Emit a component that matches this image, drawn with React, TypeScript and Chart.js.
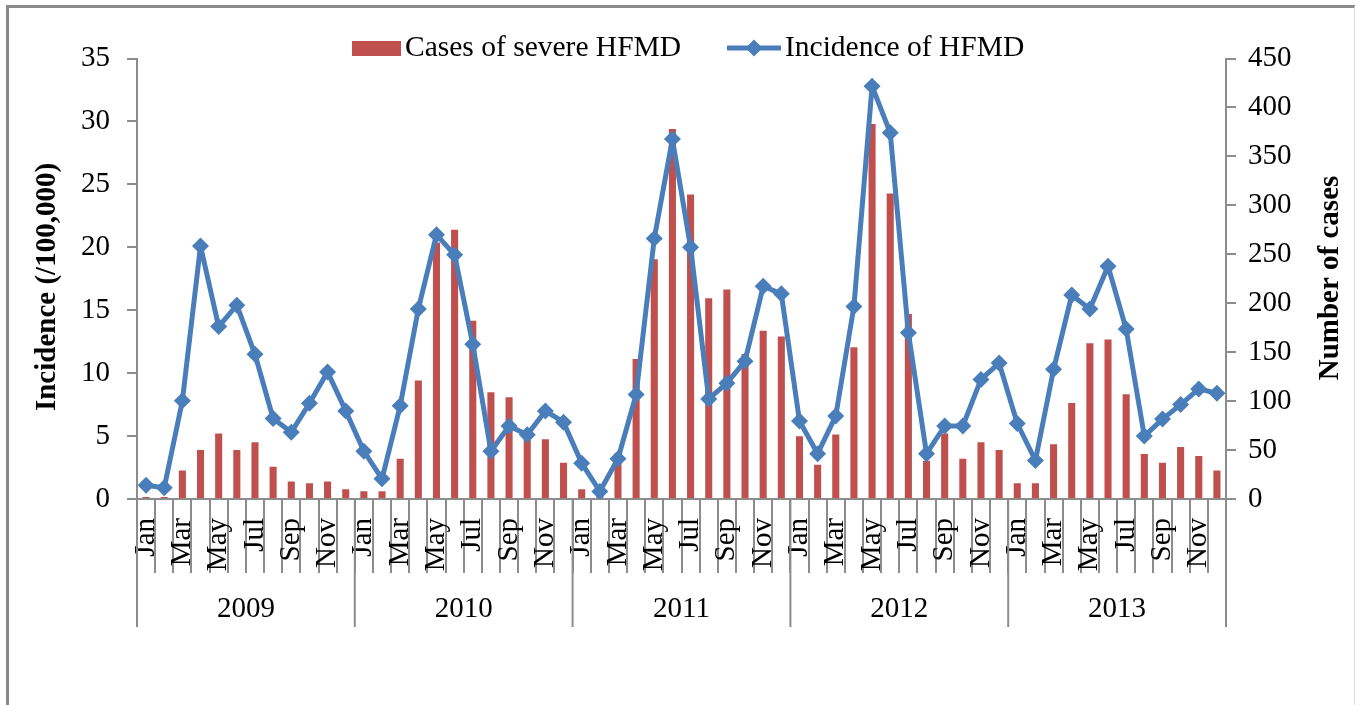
import React, { useEffect, useRef } from 'react';
import { Chart, registerables } from 'chart.js';

Chart.register(...registerables);

const years = ['2009', '2010', '2011', '2012', '2013'];
const monthNames = ['Jan', 'Feb', 'Mar', 'Apr', 'May', 'Jun', 'Jul', 'Aug', 'Sep', 'Oct', 'Nov', 'Dec'];
const categories = years.flatMap((y) => monthNames.map((m) => m));

const seriesNames = ['Cases of severe HFMD', 'Incidence of HFMD'];

// Number of severe cases (right axis)
const severeCases = [
  2, 2, 29, 50, 67, 50, 58, 33, 18, 16, 18, 10,
  8, 8, 41, 121, 262, 275, 182, 109, 104, 62, 61, 37,
  10, 4, 47, 143, 245, 378, 311, 205, 214, 148, 172, 166,
  64, 35, 66, 155, 383, 312, 189, 39, 67, 41, 58, 50,
  16, 16, 56, 98, 159, 163, 107, 46, 37, 53, 44, 29,
];

// Incidence per 100,000 (left axis)
const incidence = [
  1.1, 0.9, 7.8, 20.1, 13.7, 15.4, 11.5, 6.4, 5.3, 7.6, 10.1, 7.0,
  3.8, 1.6, 7.4, 15.1, 21.0, 19.4, 12.3, 3.8, 5.8, 5.1, 7.0, 6.1,
  2.85, 0.6, 3.2, 8.3, 20.7, 28.6, 20.0, 7.95, 9.2, 10.95, 16.9, 16.3,
  6.2, 3.6, 6.6, 15.3, 32.8, 29.1, 13.2, 3.6, 5.8, 5.8, 9.5, 10.8,
  6.0, 3.06, 10.3, 16.2, 15.1, 18.5, 13.5, 5.0, 6.35, 7.5, 8.75, 8.4,
];

const leftTitle = 'Incidence (/100,000)';
const rightTitle = 'Number of cases';

const RED = '#C0504D';
const BLUE = '#4A7EBB';
const AXIS = '#8c8c8c';
const FONT = "'Liberation Serif', 'Times New Roman', serif";

const W = 1359;
const H = 705;

const overlayPlugin = {
  id: 'overlay',
  afterDraw(chart: any) {
    const ctx = chart.ctx as CanvasRenderingContext2D;
    const xs = chart.scales.x;
    ctx.save();

    // Year separators and year labels
    const half = (xs.getPixelForValue(1) - xs.getPixelForValue(0)) / 2;
    ctx.strokeStyle = AXIS;
    ctx.lineWidth = 2;
    for (let k = 0; k <= years.length; k++) {
      const px = k < years.length ? xs.getPixelForValue(k * 12) - half : xs.getPixelForValue(k * 12 - 1) + half;
      ctx.beginPath();
      ctx.moveTo(px, xs.top);
      ctx.lineTo(px, 627);
      ctx.stroke();
    }
    ctx.fillStyle = '#000';
    ctx.font = `29px ${FONT}`;
    ctx.textAlign = 'center';
    ctx.textBaseline = 'middle';
    years.forEach((y, k) => {
      const a = xs.getPixelForValue(k * 12) - half;
      const b = xs.getPixelForValue(k * 12 + 11) + half;
      ctx.fillText(y, (a + b) / 2, 609);
    });

    // Axis titles
    ctx.font = `bold 29px ${FONT}`;
    ctx.save();
    ctx.translate(48, 287);
    ctx.rotate(-Math.PI / 2);
    ctx.fillText(leftTitle, 0, 0);
    ctx.restore();
    ctx.save();
    ctx.translate(1331, 278);
    ctx.rotate(-Math.PI / 2);
    ctx.fillText(rightTitle, 0, 0);
    ctx.restore();

    // Legend
    const ly = 48;
    ctx.fillStyle = RED;
    ctx.fillRect(352, 41, 49, 15);
    ctx.fillStyle = '#000';
    ctx.font = `29.5px ${FONT}`;
    ctx.textAlign = 'left';
    ctx.fillText(seriesNames[0], 405, ly);
    ctx.strokeStyle = BLUE;
    ctx.lineWidth = 5;
    ctx.beginPath();
    ctx.moveTo(727, ly);
    ctx.lineTo(781, ly);
    ctx.stroke();
    ctx.fillStyle = BLUE;
    ctx.beginPath();
    const cx = 754, r = 8.5;
    ctx.moveTo(cx - r, ly);
    ctx.lineTo(cx, ly - r);
    ctx.lineTo(cx + r, ly);
    ctx.lineTo(cx, ly + r);
    ctx.closePath();
    ctx.fill();
    ctx.fillStyle = '#000';
    ctx.fillText(seriesNames[1], 785, ly);

    ctx.restore();
  },
};

export default function App() {
  const ref = useRef<HTMLCanvasElement | null>(null);

  useEffect(() => {
    if (!ref.current) return;
    const chart = new Chart(ref.current, {
      type: 'bar',
      data: {
        labels: categories,
        datasets: [
          {
            type: 'line' as const,
            label: seriesNames[1],
            data: incidence,
            yAxisID: 'y',
            borderColor: BLUE,
            backgroundColor: BLUE,
            borderWidth: 5,
            borderJoinStyle: 'round',
            borderCapStyle: 'round',
            pointStyle: 'rectRot',
            pointRadius: 8.5,
            pointBorderWidth: 0,
            pointBackgroundColor: BLUE,
            tension: 0,
            order: 0,
          },
          {
            type: 'bar' as const,
            label: seriesNames[0],
            data: severeCases,
            yAxisID: 'y1',
            backgroundColor: RED,
            borderWidth: 0,
            categoryPercentage: 1,
            barPercentage: 0.39,
            order: 1,
          },
        ],
      },
      options: {
        responsive: false,
        animation: false,
        devicePixelRatio: 1,
        layout: { padding: { top: 58.5, left: 0, right: 0, bottom: 0 } },
        plugins: {
          legend: { display: false },
          tooltip: { enabled: false },
          title: { display: false },
        },
        scales: {
          x: {
            type: 'category',
            offset: true,
            grid: {
              offset: true,
              drawOnChartArea: false,
              drawTicks: true,
              tickLength: 74,
              color: AXIS,
              lineWidth: 2,
            },
            border: { display: true, color: AXIS, width: 2 },
            ticks: {
              autoSkip: false,
              minRotation: 90,
              maxRotation: 90,
              padding: -55,
              color: '#000',
              font: { family: FONT, size: 29 },
              callback: (_v: any, i: number) => (i % 2 === 0 ? categories[i] : ''),
            },
            afterFit: (s: any) => {
              s.height = H - 499;
            },
          },
          y: {
            position: 'left',
            min: 0,
            max: 35,
            ticks: {
              stepSize: 5,
              padding: 17,
              color: '#000',
              font: { family: FONT, size: 29 },
            },
            grid: {
              drawOnChartArea: false,
              drawTicks: true,
              tickLength: 10,
              color: AXIS,
              lineWidth: 2,
            },
            border: { display: true, color: AXIS, width: 2 },
            afterFit: (s: any) => {
              s.width = 137;
            },
          },
          y1: {
            position: 'right',
            min: 0,
            max: 450,
            ticks: {
              stepSize: 50,
              padding: 12,
              color: '#000',
              font: { family: FONT, size: 29 },
            },
            grid: {
              drawOnChartArea: false,
              drawTicks: true,
              tickLength: 10,
              color: AXIS,
              lineWidth: 2,
            },
            border: { display: true, color: AXIS, width: 2 },
            afterFit: (s: any) => {
              s.width = W - 1226;
            },
          },
        },
      },
      plugins: [overlayPlugin],
    });
    return () => chart.destroy();
  }, []);

  return (
    <div style={{ position: 'fixed', left: 0, top: 0, width: W, height: H, background: '#fff', overflow: 'hidden' }}>
      <div
        style={{
          position: 'absolute',
          left: 6,
          top: 5,
          width: 1349,
          height: 800,
          borderLeft: '3px solid #8a8a8a',
          borderTop: '3px solid #8a8a8a',
          borderRight: '1px solid #dddddd',
          boxSizing: 'border-box',
        }}
      />
      <canvas ref={ref} width={W} height={H} style={{ position: 'absolute', left: 0, top: 0, width: W, height: H }} />
    </div>
  );
}
